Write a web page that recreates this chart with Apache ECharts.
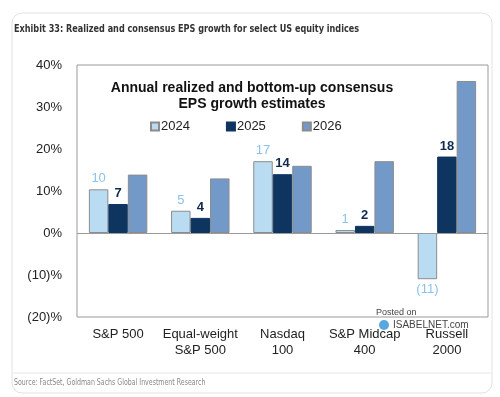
<!DOCTYPE html>
<html>
<head>
<meta charset="utf-8">
<script src="https://cdn.jsdelivr.net/npm/echarts@6/dist/echarts.min.js"></script>
<style>
  html, body { margin: 0; padding: 0; background: #fff; }
  #chart { width: 500px; height: 397px; }
</style>
</head>
<body>
<div id="chart"></div>
<script>
var categories = ['S&P 500', 'Equal-weight\nS&P 500', 'Nasdaq\n100', 'S&P Midcap\n400', 'Russell\n2000'];
var years = ['2024', '2025', '2026'];
var eps2024 = [10.4, 5.3, 17.1, 0.7, -11.0];
var eps2025 = [6.9, 3.6, 14.0, 1.7, 18.2];
var eps2026 = [13.9, 13.0, 16.0, 17.1, 36.2];
var yTicks = [-20, -10, 0, 10, 20, 30, 40];

var font = '"Liberation Sans", Arial, sans-serif';
var narrow = '"Liberation Sans Narrow", "DejaVu Sans Condensed", sans-serif';

function pctLabel(v) {
    return v < 0 ? '(' + Math.abs(v) + ')%' : v + '%';
}
function roundLabel(p) {
    var v = Math.round(p.value);
    return v < 0 ? '(' + Math.abs(v) + ')' : '' + v;
}
function withNegBottom(arr) {
    return arr.map(function (v) {
        return v < 0 ? { value: v, label: { position: 'bottom' } } : v;
    });
}

var myChart = echarts.init(document.getElementById('chart'), null, { renderer: 'canvas' });

var option = {
    animation: false,
    backgroundColor: '#fff',
    title: {
        text: 'Annual realized and bottom-up consensus\nEPS growth estimates',
        left: 247,
        top: 75,
        textAlign: 'center',
        textStyle: {
            fontFamily: font,
            fontSize: 14,
            fontWeight: 'bold',
            color: '#111',
            lineHeight: 16
        }
    },
    legend: {
        left: 145,
        top: 115,
        itemWidth: 8,
        itemHeight: 8,
        itemGap: 36,
        icon: 'rect',
        textStyle: { fontFamily: font, fontSize: 13, color: '#222', padding: [0, 0, 0, -3] },
        data: years
    },
    grid: {
        left: 77,
        right: 12,
        top: 65,
        bottom: 80,
        show: true,
        borderColor: '#9a9a9a',
        borderWidth: 1
    },
    xAxis: {
        type: 'category',
        data: categories,
        axisLine: { show: false, onZero: false },
        axisTick: { show: false },
        axisLabel: {
            fontFamily: font,
            fontSize: 13,
            color: '#222',
            lineHeight: 16,
            margin: 9,
            interval: 0
        }
    },
    yAxis: {
        type: 'value',
        min: yTicks[0],
        max: yTicks[yTicks.length - 1],
        interval: 10,
        axisLine: { show: false },
        axisTick: { show: false },
        splitLine: { show: false },
        axisLabel: {
            fontFamily: font,
            fontSize: 13,
            color: '#222',
            margin: 15,
            formatter: pctLabel
        }
    },
    series: [{
        name: years[0],
        type: 'bar',
        data: withNegBottom(eps2024),
        barWidth: '23.7%',
        barGap: '0%',
        itemStyle: { color: '#b9dcf3', borderColor: '#8c8c8c', borderWidth: 1 },
        label: {
            show: true,
            position: 'top',
            distance: 4,
            formatter: roundLabel,
            fontFamily: font,
            fontSize: 13,
            color: '#8cc2e8'
        },
        markLine: {
            silent: true,
            symbol: 'none',
            label: { show: false },
            lineStyle: { color: '#9a9a9a', width: 1, type: 'solid' },
            data: [{ yAxis: 0 }]
        }
    }, {
        name: years[1],
        type: 'bar',
        data: eps2025,
        barWidth: '23.7%',
        barGap: '0%',
        itemStyle: { color: '#0e3560', borderColor: '#0e3560', borderWidth: 1 },
        label: {
            show: true,
            position: 'top',
            distance: 4,
            formatter: roundLabel,
            fontFamily: font,
            fontSize: 13,
            fontWeight: 'bold',
            color: '#0e2a4c'
        }
    }, {
        name: years[2],
        type: 'bar',
        data: eps2026,
        barWidth: '23.7%',
        barGap: '0%',
        itemStyle: { color: '#7399c8', borderColor: '#8c8c8c', borderWidth: 1 }
    }],
    graphic: [{
        type: 'rect',
        shape: { x: 12, y: 13, width: 480, height: 380, r: 10 },
        style: { fill: 'none', stroke: '#e2e2e2', lineWidth: 1 },
        silent: true
    }, {
        type: 'text',
        x: 14,
        y: 24,
        scaleX: 0.82,
        style: {
            text: 'Exhibit 33: Realized and consensus EPS growth for select US equity indices',
            fontFamily: narrow,
            fontSize: 11,
            fontWeight: 'bold',
            fill: '#333'
        }
    }, {
        type: 'line',
        shape: { x1: 12, y1: 373, x2: 492, y2: 373 },
        style: { stroke: '#e6e6e6', lineWidth: 1 },
        silent: true
    }, {
        type: 'text',
        x: 14,
        y: 379,
        scaleX: 0.87,
        style: {
            text: 'Source: FactSet, Goldman Sachs Global Investment Research',
            fontFamily: narrow,
            fontSize: 8,
            fill: '#888'
        }
    }, {
        type: 'text',
        left: 376,
        top: 308,
        style: { text: 'Posted on', fontFamily: font, fontSize: 9, fill: '#444' }
    }, {
        type: 'circle',
        shape: { cx: 384, cy: 325, r: 5 },
        style: { fill: '#5aa7dd' },
        silent: true
    }, {
        type: 'text',
        left: 393,
        top: 320,
        style: { text: 'ISABELNET.com', fontFamily: font, fontSize: 10, fill: '#444' }
    }]
};

myChart.setOption(option);
</script>
</body>
</html>
